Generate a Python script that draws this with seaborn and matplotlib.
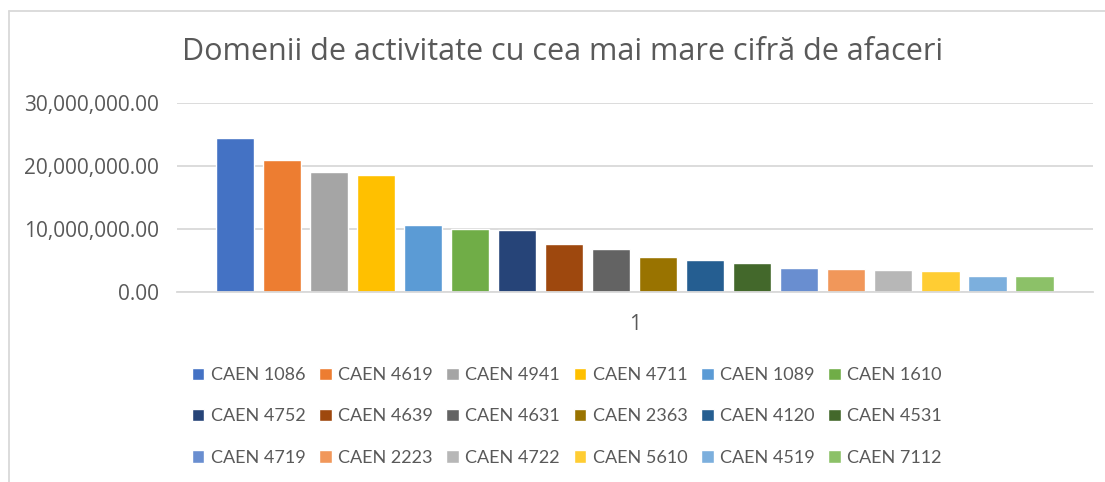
import matplotlib
matplotlib.use("Agg")
import matplotlib.pyplot as plt
from matplotlib.lines import Line2D
from matplotlib.ticker import FuncFormatter
import pandas as pd
import seaborn as sns

categories = ["1"]
series = ["CAEN 1086", "CAEN 4619", "CAEN 4941", "CAEN 4711", "CAEN 1089", "CAEN 1610",
          "CAEN 4752", "CAEN 4639", "CAEN 4631", "CAEN 2363", "CAEN 4120", "CAEN 4531",
          "CAEN 4719", "CAEN 2223", "CAEN 4722", "CAEN 5610", "CAEN 4519", "CAEN 7112"]
values = [24.5e6, 21.0e6, 19.1e6, 18.6e6, 10.7e6, 10.05e6,
          9.9e6, 7.67e6, 6.88e6, 5.61e6, 5.13e6, 4.66e6,
          3.86e6, 3.70e6, 3.54e6, 3.39e6, 2.59e6, 2.58e6]
colors = ["#4472C4", "#ED7D31", "#A5A5A5", "#FFC000", "#5B9BD5", "#70AD47",
          "#264478", "#9E480E", "#636363", "#997300", "#255E91", "#43682B",
          "#698ED0", "#F1975A", "#B7B7B7", "#FFCD33", "#7CAFDD", "#8CC168"]
y_ticks = [0, 10e6, 20e6, 30e6]

df = pd.DataFrame({"cat": categories * len(series), "serie": series, "val": values})

sns.set_style("white")
plt.rcParams["font.family"] = ["Lato", "DejaVu Sans"]
txt = "#595959"
grid = "#D9D9D9"

fig = plt.figure(figsize=(11.05, 4.82), dpi=100)
ax = fig.add_axes([0.160, 0.394, 0.829, 0.392])

sns.barplot(data=df, x="cat", y="val", hue="serie", palette=colors, width=0.924,
            gap=0.19, ax=ax, legend=True, saturation=1)

ax.set_xlim(-0.5, 0.5)
ax.set_ylim(0, 30e6)
ax.set_yticks(y_ticks)
ax.yaxis.set_major_formatter(FuncFormatter(lambda v, p: f"{v:,.2f}"))
ax.yaxis.grid(True, color=grid, linewidth=1.3)
ax.set_axisbelow(True)
for s in ["top", "right", "left"]:
    ax.spines[s].set_visible(False)
ax.spines["bottom"].set_color(grid)
ax.spines["bottom"].set_linewidth(1.3)
ax.tick_params(axis="y", length=0, pad=13, labelsize=15, labelcolor=txt)
ax.tick_params(axis="x", length=0, pad=16, labelsize=15, labelcolor=txt)
for lab in ax.get_yticklabels() + ax.get_xticklabels():
    lab.set_family(["Open Sans", "DejaVu Sans"])
ax.set_xlabel("")
ax.set_ylabel("")

# legend filled row by row, as in the original
handles, labels = ax.get_legend_handles_labels()
ax.get_legend().remove()
ncol, nrow = 6, 3
order = [r * ncol + c for c in range(ncol) for r in range(nrow)]
fig.legend([handles[i] for i in order], [labels[i] for i in order], ncol=ncol,
           loc="upper center", bbox_to_anchor=(0.513, 0.272),
           frameon=False, fontsize=13, labelcolor=txt, handlelength=0.7, handleheight=0.7,
           handletextpad=0.35, columnspacing=0.75, labelspacing=1.4)

fig.text(0.509, 0.893, "Domenii de activitate cu cea mai mare cifră de afaceri",
         ha="center", va="center", fontsize=22, color=txt,
         family=["Open Sans", "DejaVu Sans"])

# chart border (partially visible)
fig.add_artist(Line2D([9 / 1105, 1.0], [1 - 11 / 482, 1 - 11 / 482], color=grid, linewidth=1.3,
                      transform=fig.transFigure))
fig.add_artist(Line2D([9 / 1105, 9 / 1105], [0, 1 - 11 / 482], color=grid, linewidth=1.3,
                      transform=fig.transFigure))

fig.savefig("out.png", dpi=100)
